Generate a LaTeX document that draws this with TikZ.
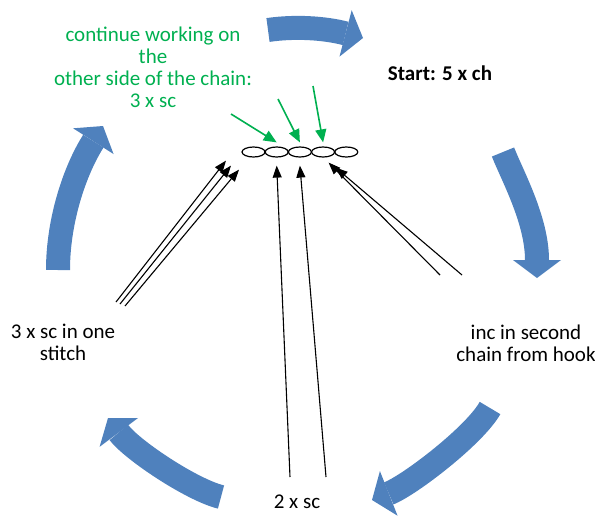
\documentclass[tikz,border=0pt]{standalone}
\usepackage{fontspec}
\setmainfont{Carlito}
\usetikzlibrary{shapes,arrows.meta,positioning}
\definecolor{cycblue}{RGB}{79,129,189}
\definecolor{notegreen}{RGB}{0,176,80}

\begin{document}
\begin{tikzpicture}[x=1pt,y=-1pt]
    \tikzstyle{every node}=[font=\fontsize{21}{22}\selectfont, align=center]
    \tikzstyle{chst}=[ellipse, draw, line width=1.2pt, minimum width=23pt, minimum height=10pt, inner sep=0pt]
    \tikzstyle{cycle arrow}=[draw=cycblue, line width=24pt, -{Triangle[length=18pt,width=48pt,line width=0pt 0]}]
    \tikzstyle{stitch arrow}=[draw, line width=1.1pt, -{Triangle[length=12pt,width=9pt]}]
    \tikzstyle{note arrow}=[draw=notegreen, line width=1.6pt, -{Triangle[length=13pt,width=11pt]}]
    \useasboundingbox (0,0) rectangle (595,517);

    \draw[cycle arrow] (268,30) .. controls (295,26) and (325,28) .. (363,38);
    \draw[cycle arrow] (503,152) .. controls (512,175) and (537,220) .. (537,278);
    \draw[cycle arrow] (490,408) .. controls (475,435) and (410,485) .. (372,500);
    \draw[cycle arrow] (221,497) .. controls (192,490) and (132,450) .. (108,418);
    \draw[cycle arrow] (58,270) .. controls (58,220) and (75,170) .. (103,126);

    \node[chst] (ch1) at (253.5,152) {};
    \node[chst, right=-1pt of ch1] (ch2) {};
    \node[chst, right=-1pt of ch2] (ch3) {};
    \node[chst, right=-1pt of ch3] (ch4) {};
    \node[chst, right=-1pt of ch4] (ch5) {};

    \node[text=notegreen] (note) at (153,67) {continue working on\\the\\other side of the chain:\\3 x sc};
    \node[font=\fontsize{21}{22}\selectfont\bfseries] (start) at (440,73) {Start: 5 x ch};
    \node (inc) at (526,343) {inc in second\\chain from hook};
    \node (two) at (297,502) {2 x sc};
    \node (three) at (63,342) {3 x sc in one\\stitch};

    \coordinate (g1) at (231,114);
    \coordinate (g2) at (278,99);
    \coordinate (g3) at (313,86);
    \coordinate (l1) at (116,302);
    \coordinate (l2) at (120,304);
    \coordinate (l3) at (125,306);
    \coordinate (m1) at (290,477);
    \coordinate (m2) at (326,477);
    \coordinate (r1) at (440,275);
    \coordinate (r2) at (462,275);

    \draw[note arrow] (g1) -- ([yshift=4pt]ch2.north);
    \draw[note arrow] (g2) -- ([yshift=4pt]ch3.north);
    \draw[note arrow] (g3) -- ([yshift=4pt]ch4.north);
    \draw[stitch arrow] (l1) -- ([xshift=-27.5pt,yshift=-3pt]ch1.south);
    \draw[stitch arrow] (l2) -- ([xshift=-22.5pt,yshift=-8pt]ch1.south);
    \draw[stitch arrow] (l3) -- ([xshift=-14.5pt,yshift=-12pt]ch1.south);
    \draw[stitch arrow] (m1) -- ([yshift=-8pt]ch2.south);
    \draw[stitch arrow] (m2) -- ([yshift=-8pt]ch3.south);
    \draw[stitch arrow] (r1) -- ([xshift=5.5pt,yshift=-5pt]ch4.south);
    \draw[stitch arrow] (r2) -- ([xshift=12.5pt,yshift=-10pt]ch4.south);
\end{tikzpicture}
\end{document}
